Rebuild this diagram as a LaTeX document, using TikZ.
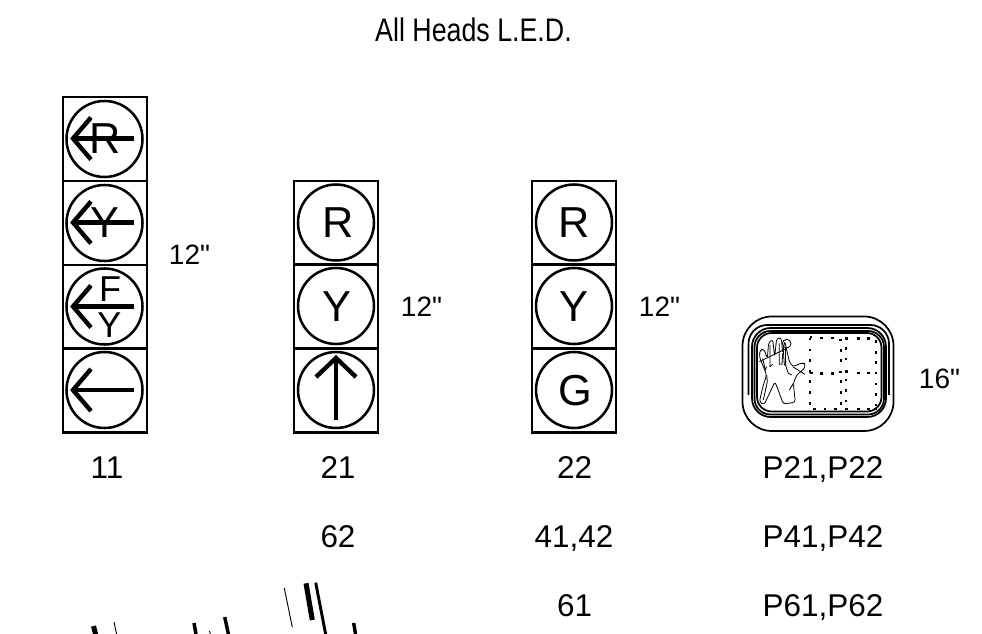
\documentclass[tikz,border=0pt]{standalone}
\usepackage{fontspec}
\newfontfamily\plainsans{Liberation Sans}
\tikzset{
  frame/.style={draw=black,line width=2.1pt,fill=none},
  lens/.style={draw=black,line width=1.9pt,circle,minimum size=57pt,inner sep=0pt},
  arrowline/.style={draw=black,line width=3.3pt,line cap=butt,line join=miter},
  letterbig/.style={inner sep=0pt,anchor=base,font=\plainsans\fontsize{32.5}{32.5}\selectfont},
  lettersmall/.style={inner sep=0pt,anchor=base,font=\plainsans\fontsize{27}{27}\selectfont},
  numlabel/.style={inner sep=0pt,anchor=base,font=\plainsans\fontsize{23.6}{23.6}\selectfont},
  sizelabel/.style={inner sep=0pt,anchor=base,font=\plainsans\fontsize{21}{21}\selectfont},
  pedline/.style={draw=black,line width=1.3pt},
  handline/.style={draw=black,line width=0.6pt,line join=round},
  dot/.style={fill=black,draw=none},
  frag/.style={draw=black,line cap=butt},
}
\begin{document}
\begin{tikzpicture}[x=0.75pt,y=-0.75pt]
\useasboundingbox (0,0) rectangle (982,634);
\clip (0,0) rectangle (982,634);
\node[inner sep=0pt,anchor=base,xscale=0.82,font=\plainsans\fontsize{24.5}{24.5}\selectfont] (title) at (473.5,41.7) {All Heads L.E.D.};
% head 11
\draw[frame] (63,97) rectangle (147,432.5);
\draw[frame] (63,181) -- (147,181) (63,265) -- (147,265) (63,348.5) -- (147,348.5);
\node[lens] (a1) at (104.5,139) {};
\node[lens] (a2) at (104.5,223) {};
\node[lens] (a3) at (104.5,306.5) {};
\node[lens] (a4) at (104.5,390) {};
\node[letterbig] (a1t) at (105.5,154) {R};
\node[letterbig] (a2t) at (105,238) {Y};
\node[lettersmall] (a3f) at (110,302) {F};
\node[lettersmall] (a3y) at (109.5,338) {Y};
\foreach \yy in {138.5,222.5,306.5,390}{
  \draw[arrowline] (134,\yy) -- (73,\yy);
  \draw[arrowline] (91,\yy-21) -- (73,\yy) -- (91,\yy+21);
}
% head 21
\draw[frame] (294,181) rectangle (378,432.5);
\draw[frame] (294,264.5) -- (378,264.5) (294,348.5) -- (378,348.5);
\node[lens] (b1) at (336,222.5) {};
\node[lens] (b2) at (336,306) {};
\node[lens] (b3) at (336,390) {};
\node[letterbig] (b1t) at (338,238) {R};
\node[letterbig] (b2t) at (337,322) {Y};
\draw[arrowline] (336,420) -- (336,358);
\draw[arrowline] (316,377) -- (336,358) -- (356,377);
% head 22
\draw[frame] (532,181) rectangle (616,432.5);
\draw[frame] (532,264.5) -- (616,264.5) (532,348.5) -- (616,348.5);
\node[lens] (c1) at (574,222.5) {};
\node[lens] (c2) at (574,306) {};
\node[lens] (c3) at (574,390) {};
\node[letterbig] (c1t) at (574.5,238) {R};
\node[letterbig] (c2t) at (574,322) {Y};
\node[letterbig] (c3t) at (575,406) {G};
% ped head
\draw[pedline,rounded corners=22] (742.5,316.5) rectangle (893.5,431);
\draw[pedline,rounded corners=14] (748.5,395) -- (748.5,325) -- (889,325) -- (889,395);
\draw[pedline,rounded corners=14] (752,328) rectangle (886,417);
\draw[pedline,rounded corners=12] (754.5,331) rectangle (884,414.5);
\draw[pedline,rounded corners=11] (757,333) rectangle (881.5,411.5);
% hand, in units of a third of a pixel
\begin{scope}[shift={(750,325)},x=0.25pt,y=-0.25pt]
\draw[handline,rounded corners=2pt] (28,230) -- (40,180) -- (50,150) -- (28,95) -- (30,75) -- (42,72) -- (52,100)
 -- (56,52) -- (68,43) -- (74,95) -- (80,40) -- (94,38) -- (98,85) -- (104,48)
 -- (118,110) -- (128,125) -- (158,113) -- (167,118) -- (162,132) -- (140,150) -- (130,175)
 -- (136,232) -- (100,237) -- (75,170) -- (42,240) -- cycle;
\draw[handline] (38,100) -- (46,135) -- (50,125);
\draw[handline] (60,60) -- (60,125) -- (68,118);
\draw[handline] (88,55) -- (88,118) -- (96,118) -- (98,85);
\draw[handline] (100,78) -- (103,120) -- (107,118) -- (106,70);
\draw[handline] (28,110) -- (110,70);
\draw[handline] (105,115) -- (115,145) -- (125,150);
\draw[handline] (128,125) -- (165,148);
\draw[handline] (50,150) -- (52,170) -- (40,225);
\draw[handline] (130,175) -- (118,195);
\draw[handline] (110,56) circle (13);
\end{scope}
% dots
\foreach \px/\py in {
 810/339,811/337,821.7/338,832.7/338,840.3/340,846.7/338.3,858.3/338.3,868.3/338.3,876/341.7,
 810/350,810/360.7,810/371.7,811.7/373,810/381.7,810/392.3,810/403.3,
 814.3/409,825/409,835.7/409,846.7/409,858.3/409,868.3/409,875.7/409,
 821.7/373.3,832.7/373.3,840.3/372,846.7/371.7,858.3/373,868.3/373,876/373,
 841/350.7,846/348.3,841/360.7,846/359,841/381.7,846/380,841/392.3,846/390.7,841/403.3,846/401,
 876/352.3,876/362.7,876/384,876/394.3,876/405}{
 \fill[dot] (\px-1.3,\py-1.3) rectangle (\px+1.3,\py+1.3);
}
% labels
\node[sizelabel] (s1) at (189.5,265) {12"};
\node[sizelabel] (s2) at (421.5,317) {12"};
\node[sizelabel] (s3) at (659.5,317) {12"};
\node[sizelabel] (s4) at (939.5,389) {16"};
\node[numlabel] (l11) at (107,478.3) {11};
\node[numlabel] (l21) at (338,478.3) {21};
\node[numlabel] (l22) at (574.5,478.3) {22};
\node[numlabel] (lp2) at (823,478.3) {P21,P22};
\node[numlabel] (l62) at (338,547.5) {62};
\node[numlabel] (l41) at (574,547.5) {41,42};
\node[numlabel] (lp4) at (823,547.5) {P41,P42};
\node[numlabel] (l61) at (574.5,616.5) {61};
\node[numlabel] (lp6) at (823,616.5) {P61,P62};
% fragments at the lower edge
\draw[frag,line width=3.8pt] (93.5,626) -- (96,636);
\draw[frag,line width=0.7pt] (114,622) -- (117,636);
\draw[frag,line width=2.6pt] (194,623) -- (196.3,636);
\draw[frag,line width=0.7pt] (209.5,631) -- (210.7,636);
\draw[frag,line width=2.6pt] (224.7,617) -- (228.8,636);
\draw[frag,line width=0.7pt] (284.3,588) -- (292.3,627.3);
\draw[frag,line width=3.8pt] (306,583.3) -- (312.3,620);
\draw[frag,line width=2.2pt] (315.7,582.7) -- (326,636);
\draw[frag,line width=2.6pt] (353.7,623) -- (355.8,636);
\end{tikzpicture}
\end{document}
